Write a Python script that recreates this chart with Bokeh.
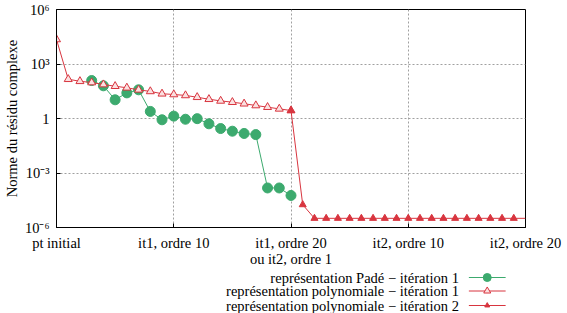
from bokeh.plotting import figure
from bokeh.models import FixedTicker, Label, Range1d
from bokeh.layouts import column
from bokeh.embed import file_html
from bokeh.resources import INLINE

# ---- data ----
x_pade = [3, 4, 5, 6, 7, 8, 9, 10, 11, 12, 13, 14, 15, 16, 17, 18, 19, 20]
y_pade = [123, 63, 10.7, 25.7, 38, 2.45, 0.85, 1.35, 0.91, 0.98, 0.51, 0.28,
          0.20, 0.15, 0.13, 1.5e-4, 1.5e-4, 5.8e-5]

x_poly1 = [0, 1, 2, 3, 4, 5, 6, 7, 8, 9, 10, 11, 12, 13, 14, 15, 16, 17, 18, 19, 20]
y_poly1 = [2.24e4, 145, 112, 95.5, 74, 60, 49, 38, 31, 23, 21, 18.6, 14.8, 11.5,
           9.3, 7.9, 6.5, 5.2, 4.2, 3.4, 2.75]

x_poly2 = [20, 21, 22, 23, 24, 25, 26, 27, 28, 29, 30, 31, 32, 33, 34, 35, 36, 37, 38, 39, 40]
y_poly2 = [2.75, 1.8e-5, 3.2e-6, 3.2e-6, 3.2e-6, 3.2e-6, 3.2e-6, 3.2e-6, 3.2e-6, 3.2e-6,
           3.2e-6, 3.2e-6, 3.2e-6, 3.2e-6, 3.2e-6, 3.2e-6, 3.2e-6, 3.2e-6, 3.2e-6, 3.2e-6, 3.2e-6]

x_ticks = [0, 10, 20, 30, 40]
x_tick_labels = ["pt initial", "it1, ordre 10", "it1, ordre 20\nou it2, ordre 1",
                 "it2, ordre 10", "it2, ordre 20"]
y_ticks = [1e-6, 1e-3, 1, 1e3, 1e6]
y_tick_labels = ["10\u207b\u2076", "10\u207b\u00b3", "1", "10\u00b3", "10\u2076"]

legend_labels = ["représentation Padé − itération 1",
                 "représentation polynomiale − itération 1",
                 "représentation polynomiale − itération 2"]

GREEN = "#3caa6e"
RED = "#d8353f"
FONT = "Liberation Serif"
FS = "14.5px"

p = figure(width=567, height=270, y_axis_type="log", output_backend="svg",
           toolbar_location=None,
           x_range=Range1d(0, 40), y_range=Range1d(1e-6, 1e6),
           min_border_left=53, min_border_right=42, min_border_top=9,
           min_border_bottom=43)
p.background_fill_color = "white"
p.border_fill_color = "white"
p.outline_line_color = "black"
p.outline_line_width = 1
p.outline_line_alpha = 1

# axes
p.xaxis.ticker = FixedTicker(ticks=x_ticks)
p.xaxis.major_label_overrides = dict(zip(x_ticks, x_tick_labels))
p.yaxis.ticker = FixedTicker(ticks=y_ticks)
p.yaxis.major_label_overrides = dict(zip(y_ticks, y_tick_labels))
for ax in (p.xaxis, p.yaxis):
    ax.major_label_text_font = FONT
    ax.major_label_text_font_size = FS
    ax.major_label_text_color = "black"
    ax.major_label_text_line_height = 1.0
    ax.axis_line_color = "black"
    ax.major_tick_line_color = "black"
    ax.major_tick_in = 4
    ax.major_tick_out = 0
    ax.minor_tick_line_color = None
p.xaxis.major_label_standoff = 7
p.yaxis.major_label_standoff = 7
p.yaxis.axis_label = "Norme du résidu complexe"
p.yaxis.axis_label_text_font = FONT
p.yaxis.axis_label_text_font_size = FS
p.yaxis.axis_label_text_font_style = "normal"
p.yaxis.axis_label_text_color = "black"
p.yaxis.axis_label_standoff = 2

# grid
for g in (p.xgrid, p.ygrid):
    g.grid_line_color = "#a0a0a0"
    g.grid_line_dash = "2 2"
    g.grid_line_width = 1
p.xgrid.ticker = FixedTicker(ticks=x_ticks[1:-1])
p.ygrid.ticker = FixedTicker(ticks=y_ticks[1:-1])

# series styles
pade_line = dict(line_color=GREEN, line_width=1)
pade_mark = dict(marker="circle", fill_color=GREEN, line_color=GREEN)
p1_line = dict(line_color=RED, line_width=1)
p1_mark = dict(marker="triangle", fill_color="#fbe0e0", line_color=RED, line_width=1)
p2_line = dict(line_color=RED, line_width=1)
p2_mark = dict(marker="triangle", fill_color=RED, line_color=RED)

p.line(x_pade, y_pade, **pade_line)
p.scatter(x_pade, y_pade, size=10, **pade_mark)
p.line(x_poly1, y_poly1, **p1_line)
p.scatter(x_poly1, y_poly1, size=8, **p1_mark)
p.line(x_poly2, y_poly2, **p2_line)
p.scatter(x_poly2[:-1], y_poly2[:-1], size=7, **p2_mark)

# ---- legend panel (key samples on the right, texts right-aligned) ----
# its frame is aligned with the main frame (x from 53 to 525 px); the
# ranges below make one data unit equal one pixel of the page.
lg = figure(width=567, height=43, output_backend="svg", toolbar_location=None,
            x_range=Range1d(53, 525), y_range=Range1d(0, 43),
            x_axis_location=None, y_axis_location=None,
            min_border=0, min_border_left=0, min_border_right=0,
            min_border_top=0, min_border_bottom=0)
lg.grid.visible = False
lg.outline_line_color = None
lg.background_fill_color = "white"
lg.border_fill_color = "white"

key_styles = [(pade_line, pade_mark, 8), (p1_line, p1_mark, 7), (p2_line, p2_mark, 5)]
KEY_X0, KEY_X1, TEXT_X = 468, 505, 458
ROW_Y = [36, 22.5, 8]
for txt, ky, (ls, ms, sz) in zip(legend_labels, ROW_Y, key_styles):
    lg.line([KEY_X0, KEY_X1], [ky, ky], **ls)
    lg.scatter([(KEY_X0 + KEY_X1) / 2], [ky], size=sz, **ms)
    lg.add_layout(Label(x=TEXT_X, y=ky, text=txt, text_align="right",
                        text_baseline="middle", text_font=FONT, text_font_size=FS,
                        text_color="black"))

layout = column(p, lg, spacing=0)
open("out.html", "w").write(file_html(layout, INLINE))
